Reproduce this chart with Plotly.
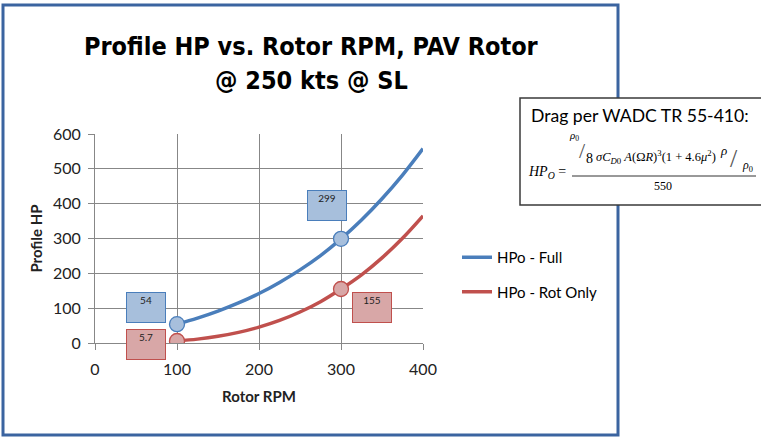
import plotly.graph_objects as go

# ---------------- data ----------------
rpm = [100, 125, 150, 175, 200, 225, 250, 275, 300, 325, 350, 375, 400]
hp_full = [54, 71.5, 91.7, 115, 142, 174, 210, 251, 299, 353, 414, 482, 558]
hp_rot = [5.7, 11.1, 19.2, 30.5, 45.6, 64.9, 89, 118.6, 155, 195.7, 244.4, 300.6, 365]

key_rpm = [100, 300]
key_full = [54, 299]
key_rot = [5.7, 155]

x_ticks = [0, 100, 200, 300, 400]
y_ticks = [0, 100, 200, 300, 400, 500, 600]

series_names = ["HPo - Full", "HPo - Rot Only"]

# ---------------- styling ----------------
BLUE = "#4a7ebb"
BLUE_FILL = "#a7bfdc"
RED = "#c0504d"
RED_FILL = "#d8a7a7"
GRID = "#878787"
FONT = "Lato, Open Sans, sans-serif"
TITLE_FONT = "DejaVu Sans Condensed, Liberation Sans Narrow, sans-serif"
SERIF = "Liberation Serif, Times New Roman, serif"

W, H = 761, 437
L, R, T, B = 95, 338, 134, 94
PW, PH = W - L - R, H - T - B


def X(px):
    return (px - L) / PW


def Y(py):
    return (H - B - py) / PH


fig = go.Figure()

fig.add_trace(go.Scatter(x=rpm, y=hp_full, mode="lines", name=series_names[0],
                         line=dict(color=BLUE, width=3.5, shape="spline"),
                         legendgroup="a"))
fig.add_trace(go.Scatter(x=rpm, y=hp_rot, mode="lines", name=series_names[1],
                         line=dict(color=RED, width=3.5, shape="spline"),
                         legendgroup="b"))
fig.add_trace(go.Scatter(x=key_rpm, y=key_full, mode="markers", showlegend=False,
                         marker=dict(size=15, color=BLUE_FILL, line=dict(color=BLUE, width=1.3))))
fig.add_trace(go.Scatter(x=key_rpm, y=key_rot, mode="markers", showlegend=False,
                         marker=dict(size=15, color=RED_FILL, line=dict(color=RED, width=1.3))))

annotations = []

# data label boxes
label_offsets_full = [(-31, 17), (-14, 33)]
label_offsets_rot = [(-31, -3), (31, -18)]
for xv, yv, (dx, dy) in zip(key_rpm, key_full, label_offsets_full):
    annotations.append(dict(x=xv, y=yv, xref="x", yref="y", text=f"{yv:g}", showarrow=False,
                            xanchor="center", yanchor="middle",
                            xshift=dx, yshift=dy, width=36, height=27, valign="top",
                            bgcolor=BLUE_FILL, bordercolor=BLUE, borderwidth=1, borderpad=1,
                            font=dict(family=FONT, size=10, color="#222")))
for xv, yv, (dx, dy) in zip(key_rpm, key_rot, label_offsets_rot):
    annotations.append(dict(x=xv, y=yv, xref="x", yref="y", text=f"{yv:g}", showarrow=False,
                            xanchor="center", yanchor="middle",
                            xshift=dx, yshift=dy, width=36, height=27, valign="top",
                            bgcolor=RED_FILL, bordercolor=RED, borderwidth=1, borderpad=1,
                            font=dict(family=FONT, size=10, color="#222")))


def txt(px, py, text, size, family=FONT, xanchor="center", color="black"):
    annotations.append(dict(x=X(px), y=Y(py), xref="paper", yref="paper", showarrow=False,
                            xanchor=xanchor, yanchor="middle", text=text,
                            font=dict(family=family, size=size, color=color)))


# title (two lines)
txt(311, 47, "<b>Profile HP vs. Rotor RPM, PAV Rotor</b>", 25, TITLE_FONT)
txt(311, 80, "<b>@ 250 kts @ SL</b>", 25, TITLE_FONT)

# formula box contents
txt(529, 115, "Drag per WADC TR 55-410:", 17.6, FONT, "left")
txt(526, 172, "<i>HP</i><sub><i>O</i></sub> =", 14, SERIF, "left")
txt(574, 136, "<i>ρ</i><sub>0</sub>", 11, SERIF)
txt(582, 150, "/", 22, SERIF, color="#555")
txt(589, 158, "8", 14, SERIF)
txt(594, 157, "<i>σC</i><sub><i>D</i>0</sub> <i>A</i>(Ω<i>R</i>)<sup>3</sup>(1 + 4.6<i>μ</i><sup>2</sup>)",
    12.5, SERIF, "left")
txt(723, 150, "<i>ρ</i>", 13, SERIF)
txt(734, 158, "/", 26, SERIF, color="#555")
txt(747, 166, "<i>ρ</i><sub>0</sub>", 12, SERIF)
txt(663, 186, "550", 12, SERIF)

shapes = [
    # outer chart frame
    dict(type="rect", xref="paper", yref="paper", x0=X(3), x1=X(618), y0=Y(435), y1=Y(5),
         line=dict(color="#3b64a0", width=3), fillcolor="rgba(0,0,0,0)", layer="above"),
    # formula box
    dict(type="rect", xref="paper", yref="paper", x0=X(520), x1=X(770), y0=Y(205), y1=Y(98),
         line=dict(color="#3a3a3a", width=1.5), fillcolor="white", layer="above"),
    # fraction bar
    dict(type="line", xref="paper", yref="paper", x0=X(572), x1=X(756), y0=Y(176), y1=Y(176),
         line=dict(color="#333", width=1), layer="above"),
]

fig.update_layout(
    width=W, height=H,
    margin=dict(l=L, r=R, t=T, b=B),
    paper_bgcolor="white", plot_bgcolor="white",
    showlegend=True,
    legend=dict(x=X(457), y=Y(241), xanchor="left", yanchor="top",
                font=dict(family=FONT, size=15, color="black"),
                tracegroupgap=12, bgcolor="rgba(0,0,0,0)"),
    annotations=annotations,
    shapes=shapes,
    font=dict(family=FONT, color="#222"),
)

fig.update_xaxes(range=[0, 400], tickvals=x_ticks, showgrid=True, gridcolor=GRID, gridwidth=1,
                 showline=True, linecolor=GRID, zeroline=False, ticks="outside", ticklen=6,
                 tickcolor=GRID, ticklabelstandoff=6,
                 tickfont=dict(family=FONT, size=16, color="#222"),
                 title=dict(text="<b>Rotor RPM</b>", standoff=14,
                            font=dict(family=FONT, size=15, color="#222")))
fig.update_yaxes(range=[0, 600], tickvals=y_ticks, showgrid=True, gridcolor=GRID, gridwidth=1,
                 showline=True, linecolor=GRID, zeroline=False, ticks="outside", ticklen=6,
                 tickcolor=GRID, ticklabelstandoff=4,
                 tickfont=dict(family=FONT, size=16, color="#222"),
                 title=dict(text="<b>Profile HP</b>", standoff=6,
                            font=dict(family=FONT, size=15, color="#222")))

fig.write_html("out.html", config={"displayModeBar": False},
               post_script="document.body.style.margin='0px';")
